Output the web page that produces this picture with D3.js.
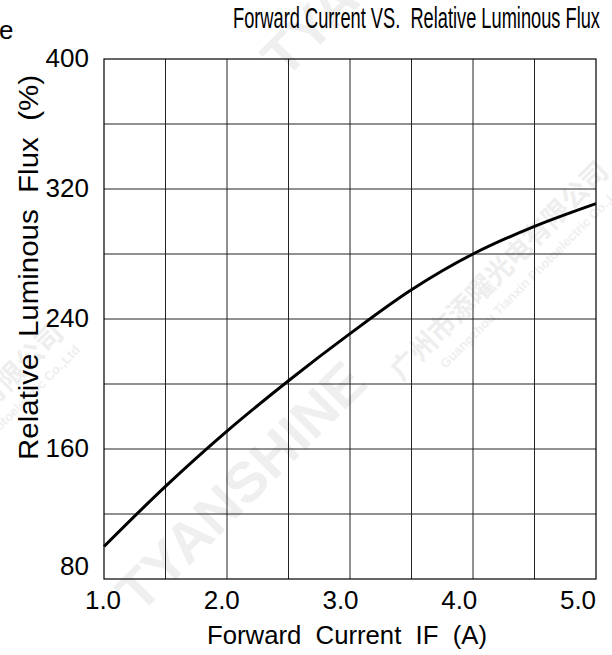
<!DOCTYPE html>
<html>
<head>
<meta charset="utf-8">
<script src="https://cdn.jsdelivr.net/npm/d3@7"></script>
<style>
  body { margin: 0; background: #fff; }
  svg text { font-family: "Liberation Sans", Arial, sans-serif; fill: #000; }
  svg text.wm { fill: #efefef; font-weight: bold; }
  svg text.wmcn { fill: #eeeeee; font-family: "Noto Sans CJK SC", sans-serif; font-weight: bold; }
</style>
</head>
<body>
<svg id="chart" width="612" height="655"></svg>
<script>
// forward current (A) vs relative luminous flux (%)
var current = [1.0, 1.5, 2.0, 2.5, 3.0, 3.5, 4.0, 4.5, 5.0];
var flux = [100, 137, 171, 202, 231, 258, 280, 297, 311];
var xTicks = [1.0, 2.0, 3.0, 4.0, 5.0];
var yTicks = [80, 160, 240, 320, 400];
var xGrid = [1.5, 2.0, 2.5, 3.0, 3.5, 4.0, 4.5];
var yGrid = [120, 160, 200, 240, 280, 320, 360];

var svg = d3.select("#chart");
var pLeft = 104, pRight = 596, pTop = 59, pBottom = 579;

var x = d3.scaleLinear().domain([1, 5]).range([pLeft, pRight]);
var y = d3.scaleLinear().domain([80, 400]).range([pBottom, pTop]);
// tick labels in the sheet drift slightly left of their gridlines
var xLab = d3.scaleLinear().domain([1, 5]).range([103, 578]);

// faint watermarks
function watermark(tx, ty, ang, withLogo) {
  var g = svg.append("g").attr("transform", "translate(" + tx + "," + ty + ") rotate(" + ang + ")");
  if (withLogo) {
    g.append("text").attr("class", "wm").attr("font-size", 56)
      .attr("textLength", 325).attr("lengthAdjust", "spacingAndGlyphs").text("TYANSHINE");
  }
  g.append("text").attr("class", "wmcn").attr("x", 350).attr("y", 20).attr("font-size", 27)
    .attr("textLength", 295).attr("lengthAdjust", "spacingAndGlyphs").text("广州市添曜光电有限公司");
  g.append("text").attr("class", "wm").attr("x", 390).attr("y", 42).attr("font-size", 13)
    .attr("textLength", 255).attr("lengthAdjust", "spacingAndGlyphs").text("Guangzhou Tianxin Photoelectric Co.,Ltd");
}
watermark(140, 615, -45, true);
watermark(285, 80, -45, true);
watermark(-405, 777, -45, false);

// stray fragment of neighbouring text
svg.append("text").attr("x", -1).attr("y", 39).attr("font-size", 26).text("e");

svg.append("text")
  .attr("x", 233).attr("y", 28)
  .attr("font-size", 29)
  .attr("textLength", 367).attr("lengthAdjust", "spacingAndGlyphs")
  .attr("xml:space", "preserve")
  .text("Forward Current VS.  Relative Luminous Flux");

var grid = svg.append("g");
grid.selectAll("line.v").data(xGrid).enter().append("line")
  .attr("x1", function (d) { return x(d); }).attr("x2", function (d) { return x(d); })
  .attr("y1", pTop).attr("y2", pBottom)
  .attr("stroke", "#222").attr("stroke-width", 1);
grid.selectAll("line.h").data(yGrid).enter().append("line")
  .attr("y1", function (d) { return y(d); }).attr("y2", function (d) { return y(d); })
  .attr("x1", pLeft).attr("x2", pRight)
  .attr("stroke", "#222").attr("stroke-width", 1);

svg.append("rect")
  .attr("x", pLeft).attr("y", pTop)
  .attr("width", pRight - pLeft).attr("height", pBottom - pTop)
  .attr("fill", "none").attr("stroke", "#000").attr("stroke-width", 1.2);

var line = d3.line()
  .x(function (d, i) { return x(current[i]); })
  .y(function (d) { return y(d); })
  .curve(d3.curveCatmullRom.alpha(0.5));

svg.append("path").datum(flux)
  .attr("d", line)
  .attr("fill", "none").attr("stroke", "#000").attr("stroke-width", 3);

// y tick labels (the bottom one sits higher)
svg.selectAll("text.yt").data(yTicks).enter().append("text")
  .attr("x", 89)
  .attr("y", function (d) { return y(d) + (d === 80 ? -4 : 8); })
  .attr("text-anchor", "end")
  .attr("font-size", 26)
  .text(function (d) { return d; });

svg.selectAll("text.xt").data(xTicks).enter().append("text")
  .attr("x", function (d) { return xLab(d); })
  .attr("y", pBottom + 30)
  .attr("text-anchor", "middle")
  .attr("font-size", 26)
  .text(function (d) { return d.toFixed(1); });

svg.append("text")
  .attr("x", 207).attr("y", 644)
  .attr("font-size", 26)
  .attr("textLength", 280).attr("lengthAdjust", "spacingAndGlyphs")
  .attr("xml:space", "preserve")
  .text("Forward  Current  IF  (A)");

svg.append("text")
  .attr("transform", "translate(38,460) rotate(-90)")
  .attr("font-size", 27)
  .attr("textLength", 385).attr("lengthAdjust", "spacingAndGlyphs")
  .attr("xml:space", "preserve")
  .text("Relative  Luminous  Flux  (%)");
</script>
</body>
</html>
